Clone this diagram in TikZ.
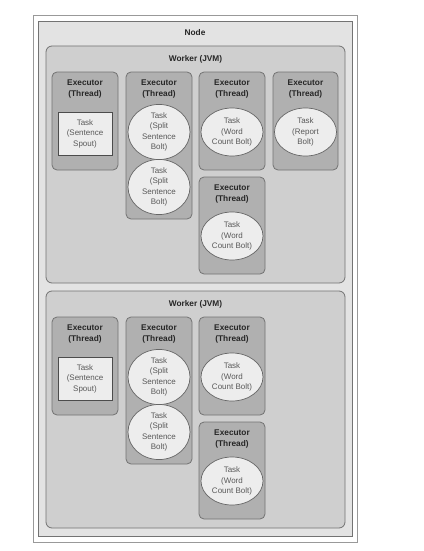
\documentclass[tikz,border=0pt]{standalone}
\usepackage{fontspec}
\setmainfont{Liberation Sans}
\usetikzlibrary{shapes.geometric, positioning}
\tikzset{
    frame box/.style = {draw=black!40, fill=white, line width=0.6pt, inner sep=0pt},
    node box/.style = {draw=black!55, fill=black!11, line width=0.6pt, inner sep=0pt},
    worker box/.style = {draw=black!55, fill=black!19, rounded corners=6pt, line width=0.8pt, inner sep=0pt},
    executor box/.style = {draw=black!55, fill=black!31, rounded corners=5pt, line width=0.8pt, inner sep=0pt},
    box title/.style = {font=\bfseries\fontsize{8.3}{11.5}\selectfont, align=center, text=black!85, inner sep=0pt},
}
\tikzset{
    spout task/.style = {draw=black!70, fill=black!7, line width=0.7pt, minimum width=54pt, minimum height=43pt, inner sep=0pt, align=center, text=black!65, font=\fontsize{8}{10.5}\selectfont},
    bolt task/.style = {ellipse, draw=black!60, fill=black!7, line width=0.7pt, minimum width=62pt, minimum height=48pt, inner sep=0pt, align=center, text=black!65, font=\fontsize{8}{10.5}\selectfont},
}
\begin{document}
\begin{tikzpicture}[x=1pt, y=-1pt]
        \useasboundingbox (0, 0) rectangle (423, 551);
        \node[frame box, minimum width=324pt, minimum height=527pt] (frame) at (195, 278.5) {};
        \node[node box, minimum width=314pt, minimum height=515pt] (node) at (195, 278.5) {};
        \node[box title, below=9pt of node.north] (nodetitle) {Node};
        % first worker
        \node[worker box, minimum width=299pt, minimum height=237pt] (w1) at (195.5, 164.5) {};
        \node[box title, below=10pt of w1.north] (w1title) {Worker (JVM)};
        \node[executor box, minimum width=66pt, minimum height=98pt] (w1e1) at (85, 121) {};
        \node[executor box, minimum width=66pt, minimum height=147pt] (w1e2) at (159, 145.5) {};
        \node[executor box, minimum width=66pt, minimum height=98pt] (w1e3) at (232, 121) {};
        \node[executor box, minimum width=65pt, minimum height=98pt] (w1e4) at (305.5, 121) {};
        \node[executor box, minimum width=66pt, minimum height=97pt] (w1e5) at (232, 225.5) {};
        \node[box title, below=7.5pt of w1e1.north] {Executor\\(Thread)};
        \node[box title, below=7.5pt of w1e2.north] {Executor\\(Thread)};
        \node[box title, below=7.5pt of w1e3.north] {Executor\\(Thread)};
        \node[box title, below=7.5pt of w1e4.north] {Executor\\(Thread)};
        \node[box title, below=7.5pt of w1e5.north] {Executor\\(Thread)};
        \node[spout task] (w1spout) at (85, 133.5) {Task\\(Sentence\\Spout)};
        \node[bolt task] (w1split1) at (159, 132) {Task\\(Split\\Sentence\\Bolt)};
        \node[bolt task, minimum height=50pt] (w1split2) at (159, 187) {Task\\(Split\\Sentence\\Bolt)};
        \node[bolt task] (w1count1) at (232, 132) {Task\\(Word\\Count Bolt)};
        \node[bolt task] (w1report) at (305.5, 132) {Task\\(Report\\Bolt)};
        \node[bolt task] (w1count2) at (232, 236) {Task\\(Word\\Count Bolt)};
        % second worker
        \node[worker box, minimum width=299pt, minimum height=237pt] (w2) at (195.5, 409.5) {};
        \node[box title, below=10pt of w2.north] (w2title) {Worker (JVM)};
        \node[executor box, minimum width=66pt, minimum height=98pt] (w2e1) at (85, 366) {};
        \node[executor box, minimum width=66pt, minimum height=147pt] (w2e2) at (159, 390.5) {};
        \node[executor box, minimum width=66pt, minimum height=98pt] (w2e3) at (232, 366) {};
        \node[executor box, minimum width=66pt, minimum height=97pt] (w2e5) at (232, 470.5) {};
        \node[box title, below=7.5pt of w2e1.north] {Executor\\(Thread)};
        \node[box title, below=7.5pt of w2e2.north] {Executor\\(Thread)};
        \node[box title, below=7.5pt of w2e3.north] {Executor\\(Thread)};
        \node[box title, below=7.5pt of w2e5.north] {Executor\\(Thread)};
        \node[spout task] (w2spout) at (85, 378.5) {Task\\(Sentence\\Spout)};
        \node[bolt task] (w2split1) at (159, 377) {Task\\(Split\\Sentence\\Bolt)};
        \node[bolt task, minimum height=50pt] (w2split2) at (159, 432) {Task\\(Split\\Sentence\\Bolt)};
        \node[bolt task] (w2count1) at (232, 377) {Task\\(Word\\Count Bolt)};
        \node[bolt task] (w2count2) at (232, 481) {Task\\(Word\\Count Bolt)};
    \end{tikzpicture}
\end{document}
